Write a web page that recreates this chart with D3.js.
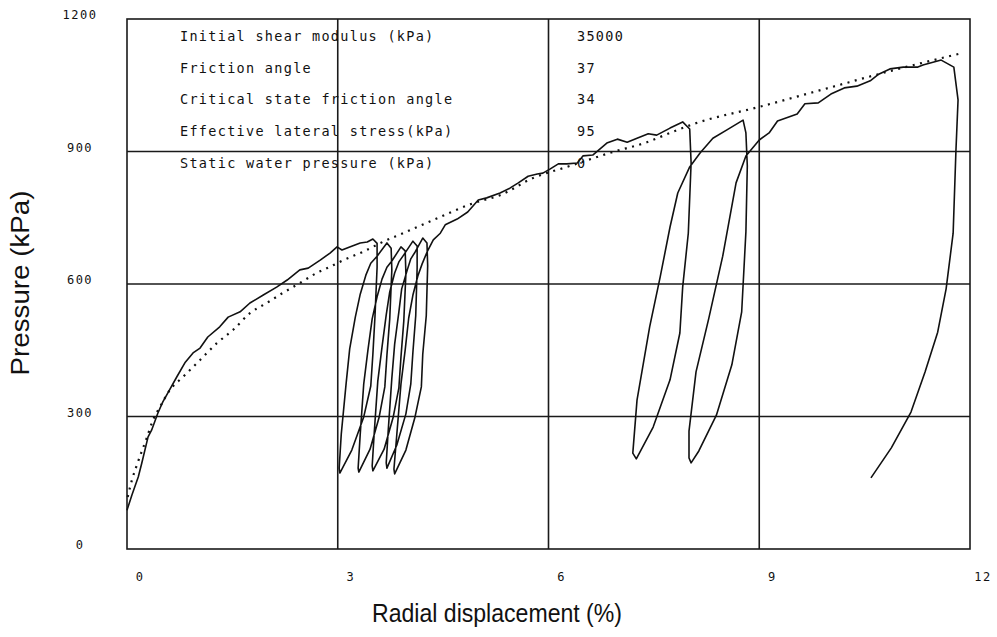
<!DOCTYPE html>
<html>
<head>
<meta charset="utf-8">
<script src="https://cdnjs.cloudflare.com/ajax/libs/d3/7.8.5/d3.min.js"></script>
<style>
  body { margin: 0; background: #fff; }
  svg { display: block; }
  .plotter { font-family: "DejaVu Sans Mono", monospace; fill: #111; }
  .title { font-family: "Liberation Sans", Arial, sans-serif; fill: #111; }
</style>
</head>
<body>
<svg id="chart" width="997" height="637"></svg>
<script>
// tick values
const xTicks = [0, 3, 6, 9, 12];
const yTicks = [0, 300, 600, 900, 1200];

// parameter table printed inside the plot
const tableLabels = [
  "Initial shear modulus (kPa)",
  "Friction angle",
  "Critical state friction angle",
  "Effective lateral stress(kPa)",
  "Static water pressure (kPa)"
];
const tableValues = ["35000", "37", "34", "95", "0"];

// measured curve, [radial displacement %, pressure kPa], in drawing order
const initialLoading = [
  [0.00, 88], [0.07, 122], [0.16, 163], [0.21, 194], [0.30, 254], [0.35, 269],
  [0.44, 308], [0.51, 333], [0.58, 353], [0.71, 390], [0.83, 423], [0.94, 444],
  [1.04, 455], [1.15, 480], [1.32, 503], [1.44, 525], [1.61, 537], [1.75, 557],
  [1.94, 575], [2.13, 593], [2.28, 609], [2.46, 632], [2.58, 636], [2.75, 654],
  [2.89, 670], [2.99, 684], [3.06, 677], [3.17, 684], [3.32, 693], [3.42, 695],
  [3.50, 702]
];
const smallLoops = [
  [3.56, 692], [3.56, 638], [3.53, 527], [3.50, 441], [3.47, 369], [3.37, 299], [3.20, 224], [3.03, 172],
  [3.02, 183], [3.05, 260], [3.12, 376], [3.17, 453], [3.25, 525], [3.32, 577], [3.40, 620], [3.47, 647], [3.56, 663], [3.70, 693],
  [3.76, 681], [3.77, 632], [3.74, 521], [3.70, 439], [3.67, 367], [3.59, 299], [3.46, 226], [3.30, 174],
  [3.29, 183], [3.32, 260], [3.37, 374], [3.43, 451], [3.49, 521], [3.56, 571], [3.63, 611], [3.70, 638], [3.77, 652], [3.90, 684],
  [3.96, 675], [3.97, 623], [3.94, 516], [3.90, 435], [3.87, 365], [3.79, 299], [3.66, 226], [3.50, 177],
  [3.49, 188], [3.52, 265], [3.57, 380], [3.63, 457], [3.69, 530], [3.74, 582], [3.81, 625], [3.87, 650], [3.94, 666], [4.07, 697],
  [4.13, 686], [4.13, 636], [4.11, 528], [4.07, 446], [4.04, 374], [3.97, 306], [3.84, 235], [3.70, 183],
  [3.69, 195], [3.72, 272], [3.77, 387], [3.81, 464], [3.87, 537], [3.91, 589], [3.99, 632], [4.04, 657], [4.10, 672], [4.21, 704],
  [4.27, 693], [4.28, 641], [4.26, 528], [4.21, 441], [4.19, 367], [4.10, 299], [3.97, 224], [3.81, 170],
  [3.80, 181], [3.84, 258], [3.90, 374], [3.96, 451], [4.01, 523], [4.07, 575], [4.14, 618], [4.20, 645], [4.27, 672], [4.36, 700], [4.46, 715]
];
const midLoading = [
  [4.53, 734], [4.70, 747], [4.85, 763], [5.00, 790], [5.12, 795], [5.31, 806],
  [5.45, 817], [5.57, 829], [5.71, 844], [5.84, 849], [5.92, 851], [6.02, 860],
  [6.14, 872], [6.26, 872], [6.41, 874], [6.49, 890], [6.63, 892], [6.83, 919],
  [6.98, 928], [7.12, 921], [7.26, 930], [7.42, 940], [7.54, 937], [7.73, 953],
  [7.91, 967]
];
const loopA = [
  [8.01, 951], [8.03, 874], [7.99, 715], [7.91, 593], [7.87, 489], [7.73, 383], [7.49, 276], [7.25, 204],
  [7.20, 217], [7.26, 337], [7.44, 503], [7.59, 616], [7.73, 729], [7.84, 806], [8.01, 865], [8.16, 897],
  [8.34, 930], [8.54, 949], [8.77, 971]
];
const loopB = [
  [8.81, 942], [8.83, 867], [8.81, 718], [8.75, 537], [8.61, 417], [8.39, 303], [8.14, 222], [8.03, 195],
  [8.00, 206], [8.00, 267], [8.10, 401], [8.28, 521], [8.48, 663], [8.67, 829], [8.81, 890], [9.00, 926]
];
const finalLoading = [
  [9.14, 942], [9.26, 969], [9.54, 985], [9.65, 1008], [9.84, 1010], [10.02, 1030],
  [10.21, 1044], [10.39, 1048], [10.58, 1060], [10.70, 1075], [10.86, 1087], [11.05, 1091],
  [11.25, 1091], [11.33, 1096], [11.59, 1107]
];
const finalUnloading = [
  [11.77, 1091], [11.83, 1017], [11.80, 903], [11.76, 715], [11.66, 589], [11.54, 491],
  [11.36, 401], [11.16, 310], [10.88, 229], [10.59, 161]
];

// theoretical fit (dotted)
const fitted = [
  [0.01, 118], [0.07, 156], [0.14, 190], [0.28, 251], [0.37, 292], [0.47, 322],
  [0.61, 360], [0.80, 390], [1.04, 428], [1.28, 466], [1.51, 496], [1.75, 534],
  [1.99, 557], [2.22, 580], [2.46, 602], [2.70, 625], [2.89, 639], [3.08, 654],
  [3.36, 673], [3.65, 696], [3.93, 715], [4.36, 745], [4.93, 783], [5.31, 801],
  [5.78, 840], [6.26, 865], [6.92, 899], [7.40, 921], [7.73, 942], [8.06, 962],
  [9.00, 1001], [9.92, 1041], [10.86, 1082], [11.84, 1121]
];

const measured = initialLoading.concat(smallLoops, midLoading, loopA, loopB, finalLoading, finalUnloading);

const svg = d3.select("#chart");
const plotLeft = 127, plotRight = 970, plotTop = 19, plotBottom = 549;

const x = d3.scaleLinear().domain([0, 12]).range([plotLeft, plotRight]);
const y = d3.scaleLinear().domain([0, 1200]).range([plotBottom, plotTop]);

// grid lines
svg.append("g")
  .selectAll("line")
  .data(yTicks.slice(1, -1))
  .enter()
  .append("line")
  .attr("x1", plotLeft).attr("x2", plotRight)
  .attr("y1", d => y(d)).attr("y2", d => y(d))
  .style("stroke", "#1a1a1a")
  .style("stroke-width", 1.6);

svg.append("g")
  .selectAll("line")
  .data(xTicks.slice(1, -1))
  .enter()
  .append("line")
  .attr("x1", d => x(d)).attr("x2", d => x(d))
  .attr("y1", plotTop).attr("y2", plotBottom)
  .style("stroke", "#1a1a1a")
  .style("stroke-width", 1.6);

// frame
svg.append("rect")
  .attr("x", plotLeft).attr("y", plotTop)
  .attr("width", plotRight - plotLeft).attr("height", plotBottom - plotTop)
  .style("fill", "none")
  .style("stroke", "#1a1a1a")
  .style("stroke-width", 1.6);

// tick labels
svg.append("g")
  .selectAll("text")
  .data(xTicks)
  .enter()
  .append("text")
  .attr("class", "plotter")
  .attr("x", d => x(d) + 13)
  .attr("y", 581)
  .attr("text-anchor", "middle")
  .style("font-size", "12px")
  .style("letter-spacing", "1.5px")
  .text(d => d);

svg.append("g")
  .selectAll("text")
  .data(yTicks)
  .enter()
  .append("text")
  .attr("class", "plotter")
  .attr("x", 80)
  .attr("y", d => y(d))
  .attr("text-anchor", "middle")
  .style("font-size", "12px")
  .style("letter-spacing", "1.5px")
  .text(d => d);

// parameter table
svg.append("g")
  .selectAll("text")
  .data(tableLabels)
  .enter()
  .append("text")
  .attr("class", "plotter")
  .attr("x", 180)
  .attr("y", (d, i) => 41 + i * 31.7)
  .style("font-size", "13.5px")
  .style("letter-spacing", "1.3px")
  .style("white-space", "pre")
  .text(d => d);

svg.append("g")
  .selectAll("text")
  .data(tableValues)
  .enter()
  .append("text")
  .attr("class", "plotter")
  .attr("x", 577)
  .attr("y", (d, i) => 41 + i * 31.7)
  .style("font-size", "13.5px")
  .style("letter-spacing", "1.3px")
  .text(d => d);

// curves
let lineFunction = d3.line()
  .x(d => x(d[0]))
  .y(d => y(d[1]))
  .curve(d3.curveLinear);

svg.append("path")
  .attr("d", d3.line().x(d => x(d[0])).y(d => y(d[1])).curve(d3.curveMonotoneX)(fitted))
  .style("fill", "none")
  .style("stroke", "#111")
  .style("stroke-width", 2.2)
  .style("stroke-dasharray", "2,5.5");

svg.append("path")
  .attr("d", lineFunction(measured))
  .style("fill", "none")
  .style("stroke", "#111")
  .style("stroke-width", 1.6)
  .style("stroke-linejoin", "round");

// axis titles
svg.append("text")
  .attr("class", "title")
  .attr("x", 497)
  .attr("y", 622)
  .attr("text-anchor", "middle")
  .attr("textLength", 250)
  .attr("lengthAdjust", "spacingAndGlyphs")
  .style("font-size", "25px")
  .text("Radial displacement (%)");

svg.append("text")
  .attr("class", "title")
  .attr("transform", "translate(29,283) rotate(-90)")
  .attr("text-anchor", "middle")
  .attr("textLength", 185)
  .attr("lengthAdjust", "spacingAndGlyphs")
  .style("font-size", "25px")
  .text("Pressure (kPa)");
</script>
</body>
</html>
